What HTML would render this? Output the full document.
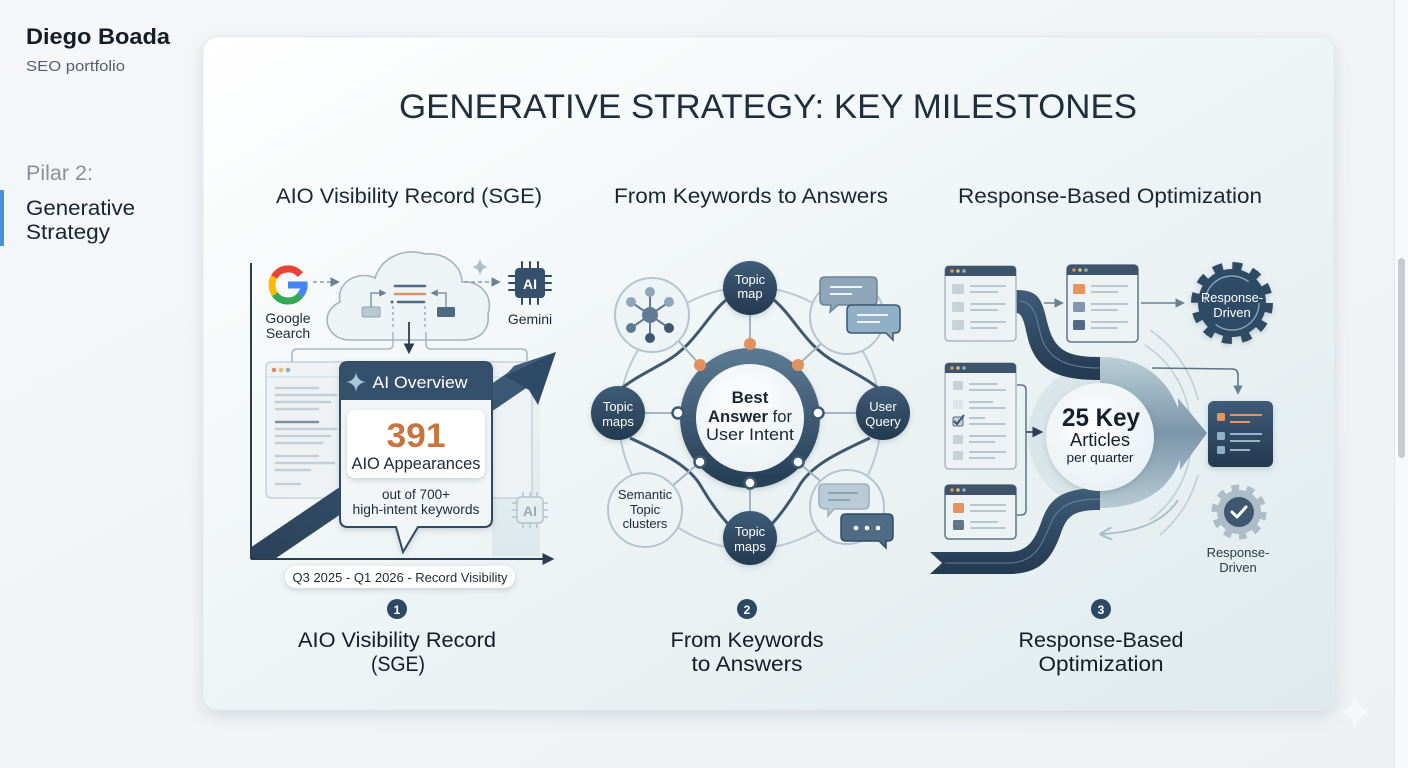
<!DOCTYPE html>
<html><head><meta charset="utf-8"><style>
html,body{margin:0;padding:0;width:1408px;height:768px;overflow:hidden;background:#f3f5f7;}
svg{display:block;font-family:"Liberation Sans",Arial,sans-serif;}
</style></head><body>
<svg width="1408" height="768" viewBox="0 0 1408 768" xmlns="http://www.w3.org/2000/svg">
<defs>
<linearGradient id="bg" x1="0" y1="0" x2="1" y2="1"><stop offset="0" stop-color="#f6f7f9"/><stop offset="1" stop-color="#eef1f3"/></linearGradient>
<linearGradient id="cardg" x1="0" y1="0" x2="1" y2="1"><stop offset="0" stop-color="#ffffff"/><stop offset="0.45" stop-color="#f0f5f6"/><stop offset="1" stop-color="#dfeaed"/></linearGradient>
<filter id="sh" x="-5%" y="-5%" width="110%" height="115%"><feDropShadow dx="0" dy="5" stdDeviation="8" flood-color="#6b7f8c" flood-opacity="0.22"/></filter>
<filter id="sh2" x="-20%" y="-20%" width="140%" height="150%"><feDropShadow dx="0" dy="2" stdDeviation="3" flood-color="#4a6070" flood-opacity="0.25"/></filter>
<linearGradient id="navy" x1="0" y1="0" x2="0" y2="1"><stop offset="0" stop-color="#3f5c78"/><stop offset="1" stop-color="#233a50"/></linearGradient>
<linearGradient id="arrowg" x1="0" y1="1" x2="1" y2="0"><stop offset="0" stop-color="#2a4259"/><stop offset="1" stop-color="#3c5a77"/></linearGradient>
<linearGradient id="ring" x1="0" y1="0" x2="0" y2="1"><stop offset="0" stop-color="#5a7890"/><stop offset="1" stop-color="#263f57"/></linearGradient>
<radialGradient id="white" cx="0.45" cy="0.4" r="0.7"><stop offset="0" stop-color="#ffffff"/><stop offset="1" stop-color="#e6eef2"/></radialGradient>
<linearGradient id="bigarrow" x1="0" y1="0" x2="0" y2="1"><stop offset="0" stop-color="#b9d0d6"/><stop offset="0.5" stop-color="#7b95aa"/><stop offset="1" stop-color="#b6cad2"/></linearGradient>
<linearGradient id="chart" x1="0" y1="0" x2="0" y2="1"><stop offset="0" stop-color="#e8f0f2"/><stop offset="1" stop-color="#d8e6ea"/></linearGradient>
<marker id="ah" viewBox="0 0 10 10" refX="8" refY="5" markerWidth="6" markerHeight="6" orient="auto"><path d="M0,0 L10,5 L0,10 Z" fill="#6a8194"/></marker>
<marker id="ahd" viewBox="0 0 10 10" refX="8" refY="5" markerWidth="6" markerHeight="6" orient="auto"><path d="M0,0 L10,5 L0,10 Z" fill="#2a3d52"/></marker>
<marker id="ahl" viewBox="0 0 10 10" refX="8" refY="5" markerWidth="7" markerHeight="7" orient="auto"><path d="M0,0 L10,5 L0,10" fill="none" stroke="#a9bcc7" stroke-width="1.6"/></marker>
<clipPath id="c1"><rect x="251" y="250" width="320" height="309"/></clipPath>
</defs>

<!-- page background -->
<rect width="1408" height="768" fill="url(#bg)"/>

<!-- sidebar -->
<text x="26" y="44" font-size="22" font-weight="bold" fill="#141c26" textLength="144" lengthAdjust="spacingAndGlyphs">Diego Boada</text>
<text x="26" y="71" font-size="15" fill="#555e66" textLength="99" lengthAdjust="spacingAndGlyphs">SEO portfolio</text>
<text x="26" y="180" font-size="21" fill="#8a9096" textLength="67" lengthAdjust="spacingAndGlyphs">Pilar 2:</text>
<rect x="0" y="190" width="4" height="56" fill="#4a90d9"/>
<text x="26" y="215" font-size="21" fill="#1a2330" textLength="109" lengthAdjust="spacingAndGlyphs">Generative</text>
<text x="26" y="239" font-size="21" fill="#1a2330" textLength="84" lengthAdjust="spacingAndGlyphs">Strategy</text>

<!-- scrollbar -->
<rect x="1394" y="0" width="14" height="768" fill="#f8f9fa"/>
<line x1="1394.5" y1="0" x2="1394.5" y2="768" stroke="#e4e7ea"/>
<rect x="1398" y="258" width="7" height="200" rx="3.5" fill="#c8cbcf"/>

<!-- card -->
<rect x="203" y="37" width="1131" height="673" rx="14" fill="url(#cardg)" stroke="#e4eaed" filter="url(#sh)"/>
<!-- sparkle bottom right -->
<path d="M1355 694 Q1357 710 1372 712 Q1357 714 1355 730 Q1353 714 1338 712 Q1353 710 1355 694Z" fill="#ffffff" opacity="0.45"/>

<!-- title -->
<text x="768" y="118" text-anchor="middle" font-size="34" fill="#1e2e3c" textLength="738" lengthAdjust="spacingAndGlyphs">GENERATIVE STRATEGY: KEY MILESTONES</text>
<text x="409" y="203" text-anchor="middle" font-size="21" fill="#1a2632" textLength="266" lengthAdjust="spacingAndGlyphs">AIO Visibility Record (SGE)</text>
<text x="751" y="203" text-anchor="middle" font-size="21" fill="#1a2632" textLength="274" lengthAdjust="spacingAndGlyphs">From Keywords to Answers</text>
<text x="1110" y="203" text-anchor="middle" font-size="21" fill="#1a2632" textLength="304" lengthAdjust="spacingAndGlyphs">Response-Based Optimization</text>

<!-- ============ PANEL 1 ============ -->
<!-- chart light area -->
<rect x="492" y="400" width="48" height="156" fill="url(#chart)" opacity="0.8"/>
<!-- browser behind -->
<rect x="266" y="362" width="266" height="136" rx="5" fill="#eef2f5" stroke="#c7d1d9" stroke-width="1.5"/>
<line x1="266" y1="377" x2="532" y2="377" stroke="#d3dce2"/>
<circle cx="274" cy="370" r="2.3" fill="#d98c6a"/><circle cx="281" cy="370" r="2.3" fill="#e0c070"/><circle cx="288" cy="370" r="2.3" fill="#8fb0c8"/>
<g stroke-linecap="round" stroke-width="2.5">
<line x1="276" y1="388" x2="318" y2="388" stroke="#c3ced6"/>
<line x1="276" y1="395" x2="336" y2="395" stroke="#c3ced6"/>
<line x1="276" y1="402" x2="330" y2="402" stroke="#c3ced6"/>
<line x1="276" y1="409" x2="318" y2="409" stroke="#c3ced6"/>
<line x1="276" y1="422" x2="318" y2="422" stroke="#7f92a3"/>
<line x1="276" y1="429" x2="336" y2="429" stroke="#c3ced6"/>
<line x1="276" y1="436" x2="330" y2="436" stroke="#c3ced6"/>
<line x1="276" y1="443" x2="322" y2="443" stroke="#c3ced6"/>
<line x1="276" y1="456" x2="318" y2="456" stroke="#c3ced6"/>
<line x1="276" y1="463" x2="334" y2="463" stroke="#c3ced6"/>
<line x1="276" y1="470" x2="310" y2="470" stroke="#c3ced6"/>
<line x1="276" y1="484" x2="300" y2="484" stroke="#c3ced6"/>
</g>
<!-- AI chip light -->
<g stroke="#b5c3cd" stroke-width="1.5" fill="none">
<rect x="517" y="497" width="26" height="26" rx="4" fill="#e6edf1"/>
<line x1="523" y1="492" x2="523" y2="497"/><line x1="530" y1="492" x2="530" y2="497"/><line x1="537" y1="492" x2="537" y2="497"/>
<line x1="523" y1="523" x2="523" y2="528"/><line x1="530" y1="523" x2="530" y2="528"/><line x1="537" y1="523" x2="537" y2="528"/>
<line x1="512" y1="503" x2="517" y2="503"/><line x1="512" y1="510" x2="517" y2="510"/><line x1="512" y1="517" x2="517" y2="517"/>
<line x1="543" y1="503" x2="548" y2="503"/><line x1="543" y1="510" x2="548" y2="510"/><line x1="543" y1="517" x2="548" y2="517"/>
</g>
<text x="530" y="516" text-anchor="middle" font-size="14" font-weight="bold" fill="#9aaab8">AI</text>

<!-- big arrow -->
<g clip-path="url(#c1)">
<line x1="244" y1="566" x2="522" y2="377" stroke="url(#arrowg)" stroke-width="23"/>
</g>
<path d="M556 352 L538 405 L529 390 L505 376 L514 366 Z" fill="#2f4a66"/>
<path d="M556 352 L505 376 L514 366 Z" fill="#3f5f7c"/>

<!-- axes -->
<line x1="251" y1="263" x2="251" y2="559" stroke="#2a3d52" stroke-width="2"/>
<line x1="251" y1="559" x2="552" y2="559" stroke="#2a3d52" stroke-width="2" marker-end="url(#ahd)"/>

<!-- Google G -->
<g fill="none" stroke-width="7">
<path d="M300.3 274.7 A16 16 0 0 0 274.1 277" stroke="#ea4335"/>
<path d="M274.1 277 A16 16 0 0 0 274.9 294.2" stroke="#fbbc05"/>
<path d="M274.9 294.2 A16 16 0 0 0 300.3 295.3" stroke="#34a853"/>
<path d="M300.3 295.3 A16 16 0 0 0 304 285" stroke="#4285f4"/>
<line x1="288" y1="285" x2="307.5" y2="285" stroke="#4285f4"/>
</g>
<text x="288" y="323" text-anchor="middle" font-size="14" fill="#1e2a36">Google</text>
<text x="288" y="338" text-anchor="middle" font-size="14" fill="#1e2a36">Search</text>
<line x1="313" y1="282" x2="338" y2="282" stroke="#8a9eae" stroke-width="1.6" stroke-dasharray="4 3" marker-end="url(#ah)"/>

<!-- cloud -->
<path d="M350 340 C326 340 318 312 340 302 C336 282 358 270 375 278 C382 256 405 248 425 254 C445 252 462 266 462 282 C480 280 494 296 488 314 C490 332 478 340 462 340 Z" fill="#eef3f6" stroke="#a4b4c0" stroke-width="1.6"/>
<g stroke-linecap="round" stroke-width="2.5">
<line x1="395" y1="286" x2="425" y2="286" stroke="#4f6a83"/>
<line x1="395" y1="294" x2="425" y2="294" stroke="#e0915e"/>
<line x1="398" y1="302" x2="424" y2="302" stroke="#4f6a83"/>
</g>
<circle cx="392" cy="302" r="1.5" fill="#4f6a83"/>
<rect x="362" y="307" width="18" height="10" rx="1.5" fill="#b8c8d3" stroke="#8ea3b3"/>
<rect x="437" y="307" width="18" height="10" rx="1.5" fill="#4f6a83"/>
<path d="M371 307 L371 293 L385 293" fill="none" stroke="#6a8194" stroke-width="1.2" marker-end="url(#ah)"/>
<path d="M446 307 L446 293 L432 293" fill="none" stroke="#6a8194" stroke-width="1.2" marker-end="url(#ah)"/>
<g stroke="#8a9eae" stroke-width="1.2" stroke-dasharray="3 3">
<line x1="393" y1="306" x2="393" y2="330"/><line x1="425" y1="306" x2="425" y2="330"/>
</g>
<line x1="409" y1="322" x2="409" y2="352" stroke="#2a3d52" stroke-width="1.8" marker-end="url(#ahd)"/>
<path d="M393 332 L393 344 Q393 349 388 349 L297 349 Q292 349 292 354 L292 362" fill="none" stroke="#a9b8c3" stroke-width="1.5"/>
<path d="M426 332 L426 344 Q426 349 431 349 L522 349 Q527 349 527 354 L527 362" fill="none" stroke="#a9b8c3" stroke-width="1.5"/>
<line x1="464" y1="282" x2="499" y2="282" stroke="#8a9eae" stroke-width="1.6" stroke-dasharray="4 3" marker-end="url(#ah)"/>
<path d="M480 258 Q481 266 488 267 Q481 268 480 276 Q479 268 472 267 Q479 266 480 258Z" fill="#aabdca"/>

<!-- Gemini chip -->
<g stroke="#2f4a63" stroke-width="2" fill="none" stroke-linecap="round">
<line x1="522" y1="262" x2="522" y2="268"/><line x1="530" y1="262" x2="530" y2="268"/><line x1="538" y1="262" x2="538" y2="268"/>
<line x1="522" y1="298" x2="522" y2="304"/><line x1="530" y1="298" x2="530" y2="304"/><line x1="538" y1="298" x2="538" y2="304"/>
<line x1="509" y1="276" x2="515" y2="276"/><line x1="509" y1="283" x2="515" y2="283"/><line x1="509" y1="290" x2="515" y2="290"/>
<line x1="545" y1="276" x2="551" y2="276"/><line x1="545" y1="283" x2="551" y2="283"/><line x1="545" y1="290" x2="551" y2="290"/>
</g>
<rect x="515" y="268" width="30" height="30" rx="4" fill="#34506b"/>
<text x="530" y="289" text-anchor="middle" font-size="14" font-weight="bold" fill="#ffffff">AI</text>
<text x="530" y="324" text-anchor="middle" font-size="14" fill="#1e2a36">Gemini</text>

<!-- AI overview callout -->
<path d="M348 362 L484 362 Q492 362 492 370 L492 519 Q492 527 484 527 L418 527 L403 552 L396 527 L348 527 Q340 527 340 519 L340 370 Q340 362 348 362 Z" fill="#f3f6f8" stroke="#2f4a63" stroke-width="2" filter="url(#sh2)"/>
<path d="M348 362 L484 362 Q492 362 492 370 L492 400 L340 400 L340 370 Q340 362 348 362 Z" fill="#34506b"/>
<path d="M356 372 Q357 381 366 382 Q357 383 356 392 Q355 383 346 382 Q355 381 356 372Z" fill="#a9c6da"/>
<text x="420" y="388" text-anchor="middle" font-size="17" fill="#ffffff" textLength="95" lengthAdjust="spacingAndGlyphs">AI Overview</text>
<rect x="347" y="410" width="138" height="68" rx="8" fill="#ffffff" filter="url(#sh2)"/>
<text x="416" y="447" text-anchor="middle" font-size="34" font-weight="bold" fill="#c8743f" textLength="59" lengthAdjust="spacingAndGlyphs">391</text>
<text x="416" y="469" text-anchor="middle" font-size="17" fill="#1e2a36" textLength="129" lengthAdjust="spacingAndGlyphs">AIO Appearances</text>
<text x="416" y="499" text-anchor="middle" font-size="13.5" fill="#1e2a36" textLength="68" lengthAdjust="spacingAndGlyphs">out of 700+</text>
<text x="416" y="514" text-anchor="middle" font-size="13.5" fill="#1e2a36" textLength="127" lengthAdjust="spacingAndGlyphs">high-intent keywords</text>

<!-- pill -->
<rect x="285" y="566" width="230" height="22" rx="11" fill="#ffffff" filter="url(#sh2)"/>
<text x="400" y="582" text-anchor="middle" font-size="13" fill="#1e2a36" textLength="215" lengthAdjust="spacingAndGlyphs">Q3 2025 - Q1 2026 - Record Visibility</text>

<!-- ============ PANEL 2 ============ -->
<circle cx="750" cy="418" r="131" fill="none" stroke="#bccad3" stroke-width="2"/>
<g fill="none" stroke="#3d5870" stroke-width="3">
<path d="M726 300 C705 318 695 345 665 362 C645 373 632 380 622 388"/>
<path d="M774 300 C795 318 805 345 835 362 C855 373 868 380 878 388"/>
<path d="M630 438 C660 452 690 465 702 488 C712 505 720 515 728 524"/>
<path d="M870 438 C840 452 810 465 798 488 C788 505 780 515 772 524"/>
</g>
<g stroke="#a3b5c1" stroke-width="2">
<line x1="675" y1="337" x2="700" y2="365"/>
<line x1="750" y1="314" x2="750" y2="343"/>
<line x1="825" y1="340" x2="798" y2="365"/>
<line x1="645" y1="413" x2="678" y2="413"/>
<line x1="856" y1="413" x2="818" y2="413"/>
<line x1="670" y1="488" x2="700" y2="462"/>
<line x1="750" y1="511" x2="750" y2="483"/>
<line x1="825" y1="485" x2="798" y2="462"/>
</g>
<circle cx="750" cy="418" r="62" fill="url(#white)" stroke="url(#ring)" stroke-width="16" filter="url(#sh2)"/>
<text x="750" y="403" text-anchor="middle" font-size="17" font-weight="bold" fill="#1a2632">Best</text>
<text x="750" y="422" text-anchor="middle" font-size="17" fill="#1a2632" textLength="84" lengthAdjust="spacingAndGlyphs"><tspan font-weight="bold">Answer</tspan> for</text>
<text x="750" y="440" text-anchor="middle" font-size="17" fill="#1a2632" textLength="88" lengthAdjust="spacingAndGlyphs">User Intent</text>
<circle cx="750" cy="344" r="6" fill="#e0915e"/>
<circle cx="700" cy="365" r="6" fill="#e0915e"/>
<circle cx="798" cy="365" r="6" fill="#e0915e"/>
<g fill="#ffffff" stroke="#3d5870" stroke-width="2.5">
<circle cx="678" cy="413" r="5.5"/><circle cx="818" cy="413" r="5.5"/>
<circle cx="700" cy="462" r="5.5"/><circle cx="798" cy="462" r="5.5"/>
<circle cx="750" cy="483" r="5.5"/>
</g>
<g fill="url(#navy)" filter="url(#sh2)">
<circle cx="750" cy="288" r="27"/><circle cx="618" cy="413" r="27"/>
<circle cx="883" cy="413" r="27"/><circle cx="750" cy="538" r="27"/>
</g>
<g font-size="13" fill="#ffffff" text-anchor="middle">
<text x="750" y="284">Topic</text><text x="750" y="298">map</text>
<text x="618" y="411">Topic</text><text x="618" y="426">maps</text>
<text x="883" y="411">User</text><text x="883" y="426">Query</text>
<text x="750" y="536">Topic</text><text x="750" y="551">maps</text>
</g>
<g fill="#eef3f6" stroke="#b5c5cf" stroke-width="2">
<circle cx="652" cy="315" r="37"/><circle cx="847" cy="317" r="37"/>
<circle cx="645" cy="510" r="37"/><circle cx="847" cy="507" r="37"/>
</g>
<g stroke="#5f7a92" stroke-width="2">
<line x1="650" y1="315" x2="631" y2="302"/><line x1="650" y1="315" x2="650" y2="292"/><line x1="650" y1="315" x2="669" y2="302"/>
<line x1="650" y1="315" x2="669" y2="328"/><line x1="650" y1="315" x2="650" y2="338"/><line x1="650" y1="315" x2="631" y2="328"/>
</g>
<circle cx="650" cy="315" r="8" fill="#5f7a92"/>
<circle cx="631" cy="302" r="5" fill="#8ea6b8"/><circle cx="650" cy="292" r="5" fill="#8ea6b8"/><circle cx="669" cy="302" r="5" fill="#8ea6b8"/>
<circle cx="669" cy="328" r="5" fill="#3d5870"/><circle cx="650" cy="338" r="5" fill="#3d5870"/><circle cx="631" cy="328" r="5" fill="#5f7a92"/>
<path d="M825 277 L872 277 Q877 277 877 282 L877 300 Q877 305 872 305 L838 305 L830 312 L831 305 L825 305 Q820 305 820 300 L820 282 Q820 277 825 277Z" fill="#8ea6b8" stroke="#6a8497" stroke-width="1.5"/>
<line x1="830" y1="287" x2="862" y2="287" stroke="#eef3f6" stroke-width="2"/><line x1="830" y1="294" x2="852" y2="294" stroke="#eef3f6" stroke-width="2"/>
<path d="M852 305 L895 305 Q900 305 900 310 L900 328 Q900 333 895 333 L893 333 L893 340 L886 333 L852 333 Q847 333 847 328 L847 310 Q847 305 852 305Z" fill="#8fb0c5" stroke="#3d5870" stroke-width="1.5"/>
<line x1="857" y1="315" x2="888" y2="315" stroke="#eef3f6" stroke-width="2"/><line x1="857" y1="322" x2="880" y2="322" stroke="#eef3f6" stroke-width="2"/>
<path d="M824 484 L864 484 Q869 484 869 489 L869 504 Q869 509 864 509 L834 509 L828 516 L828 509 Q819 509 819 504 L819 489 Q819 484 824 484Z" fill="#b9cbd6" stroke="#9ab0be" stroke-width="1.5"/>
<line x1="828" y1="493" x2="858" y2="493" stroke="#8ea6b8" stroke-width="2"/><line x1="828" y1="500" x2="850" y2="500" stroke="#8ea6b8" stroke-width="2"/>
<path d="M846 514 L888 514 Q893 514 893 519 L893 536 Q893 541 888 541 L886 541 L886 548 L879 541 L846 541 Q841 541 841 536 L841 519 Q841 514 846 514Z" fill="#4f6c86" stroke="#2f4b66" stroke-width="1.5"/>
<circle cx="856" cy="528" r="2.3" fill="#ffffff"/><circle cx="867" cy="528" r="2.3" fill="#ffffff"/><circle cx="878" cy="528" r="2.3" fill="#ffffff"/>
<g font-size="13" fill="#1e2a36" text-anchor="middle">
<text x="645" y="499">Semantic</text><text x="645" y="514">Topic</text><text x="645" y="528">clusters</text>
</g>

<!-- ============ PANEL 3 ============ -->
<circle cx="1100" cy="436" r="72" fill="#d3dfe4" opacity="0.7"/>
<g fill="none" stroke="#bfcfd7" stroke-width="1.6">
<path d="M1145 345 A100 100 0 0 1 1190 420"/>
<path d="M1150 330 A118 118 0 0 1 1198 400"/>
<path d="M1190 455 A100 100 0 0 1 1150 520"/>
<path d="M1198 475 A118 118 0 0 1 1160 535"/>
</g>
<path d="M1178 500 C1165 520 1140 532 1102 534" fill="none" stroke="#a9bcc7" stroke-width="1.8" marker-end="url(#ahl)"/>
<path d="M1100 357 C1140 357 1165 375 1178 408 L1178 398 L1207 433 L1180 470 L1180 460 C1168 492 1140 508 1100 508 Z" fill="url(#bigarrow)"/>
<path d="M1016 290 C1040 290 1042 300 1048 325 C1055 352 1070 357 1100 357 L1100 380 C1060 380 1035 372 1027 335 C1023 315 1020 313 1016 313 Z" fill="url(#navy)"/>
<path d="M1020 301 C1035 302 1037 320 1040 332 C1046 360 1068 368 1100 368" fill="none" stroke="#7f98ad" stroke-width="1" opacity="0.7"/>
<path d="M930 552 L1008 552 C1028 552 1035 540 1042 520 C1050 497 1065 488 1100 488 L1100 510 C1075 510 1068 515 1062 530 C1052 560 1040 574 1008 574 L930 574 L942 563 Z" fill="url(#navy)"/>
<path d="M945 563 L1008 563 C1032 563 1040 550 1050 525 C1058 505 1072 499 1100 499" fill="none" stroke="#7f98ad" stroke-width="1" opacity="0.7"/>
<circle cx="1100" cy="437" r="54" fill="url(#white)" filter="url(#sh2)"/>
<text x="1101" y="426" text-anchor="middle" font-size="25" font-weight="bold" fill="#141f2c" textLength="78" lengthAdjust="spacingAndGlyphs">25 Key</text>
<text x="1100" y="446" text-anchor="middle" font-size="18" fill="#141f2c" textLength="60" lengthAdjust="spacingAndGlyphs">Articles</text>
<text x="1100" y="462" text-anchor="middle" font-size="13" fill="#141f2c" textLength="67" lengthAdjust="spacingAndGlyphs">per quarter</text>

<!-- browsers -->
<g>
<rect x="945" y="266" width="71" height="75" rx="4" fill="#edf2f5" stroke="#aab8c3" stroke-width="1.5"/>
<path d="M949 266 L1012 266 Q1016 266 1016 270 L1016 276 L945 276 L945 270 Q945 266 949 266Z" fill="#3d546a"/>
<circle cx="952" cy="271" r="1.8" fill="#e0915e"/><circle cx="958" cy="271" r="1.8" fill="#e0c070"/><circle cx="964" cy="271" r="1.8" fill="#8fb0c8"/>
<rect x="952" y="284" width="12" height="10" rx="1.5" fill="#c6d2da"/><rect x="952" y="302" width="12" height="10" rx="1.5" fill="#c6d2da"/><rect x="952" y="320" width="12" height="10" rx="1.5" fill="#c6d2da"/>
<g stroke="#b9c7d1" stroke-width="2"><line x1="970" y1="286" x2="1006" y2="286"/><line x1="970" y1="292" x2="998" y2="292"/><line x1="970" y1="304" x2="1006" y2="304"/><line x1="970" y1="310" x2="998" y2="310"/><line x1="970" y1="322" x2="1006" y2="322"/><line x1="970" y1="328" x2="998" y2="328"/></g>
</g>
<g>
<rect x="1067" y="265" width="71" height="77" rx="4" fill="#edf2f5" stroke="#5f7588" stroke-width="1.5"/>
<path d="M1071 265 L1134 265 Q1138 265 1138 269 L1138 275 L1067 275 L1067 269 Q1067 265 1071 265Z" fill="#3d546a"/>
<circle cx="1074" cy="270" r="1.8" fill="#e0915e"/><circle cx="1080" cy="270" r="1.8" fill="#e0c070"/><circle cx="1086" cy="270" r="1.8" fill="#8fb0c8"/>
<rect x="1073" y="284" width="12" height="10" rx="1.5" fill="#e8925e"/><rect x="1073" y="302" width="12" height="10" rx="1.5" fill="#7f97a9"/><rect x="1073" y="320" width="12" height="10" rx="1.5" fill="#4f6a83"/>
<g stroke="#b9c7d1" stroke-width="2"><line x1="1091" y1="286" x2="1128" y2="286"/><line x1="1091" y1="292" x2="1118" y2="292"/><line x1="1091" y1="304" x2="1128" y2="304"/><line x1="1091" y1="310" x2="1118" y2="310"/><line x1="1091" y1="322" x2="1128" y2="322"/><line x1="1091" y1="328" x2="1118" y2="328"/></g>
</g>
<g>
<rect x="945" y="363" width="71" height="106" rx="4" fill="#edf2f5" stroke="#aab8c3" stroke-width="1.5"/>
<path d="M949 363 L1012 363 Q1016 363 1016 367 L1016 373 L945 373 L945 367 Q945 363 949 363Z" fill="#3d546a"/>
<circle cx="952" cy="368" r="1.8" fill="#e0915e"/><circle cx="958" cy="368" r="1.8" fill="#e0c070"/><circle cx="964" cy="368" r="1.8" fill="#8fb0c8"/>
<rect x="953" y="381" width="10" height="9" rx="1.5" fill="#c6d2da"/><rect x="953" y="400" width="10" height="9" rx="1.5" fill="#dfe6eb"/>
<rect x="953" y="417" width="10" height="9" rx="1.5" fill="#c6d2da" stroke="#4f6a83"/><path d="M954 421 L957 424 L964 415" fill="none" stroke="#3d546a" stroke-width="2"/>
<rect x="953" y="435" width="10" height="9" rx="1.5" fill="#c6d2da"/><rect x="953" y="451" width="10" height="9" rx="1.5" fill="#c6d2da"/>
<g stroke="#b9c7d1" stroke-width="2"><line x1="969" y1="384" x2="998" y2="384"/><line x1="969" y1="390" x2="1006" y2="390"/><line x1="969" y1="402" x2="993" y2="402"/><line x1="969" y1="408" x2="1006" y2="408"/><line x1="969" y1="418" x2="985" y2="418"/><line x1="969" y1="424" x2="1006" y2="424"/><line x1="969" y1="436" x2="1006" y2="436"/><line x1="969" y1="442" x2="995" y2="442"/><line x1="969" y1="452" x2="1006" y2="452"/><line x1="969" y1="458" x2="995" y2="458"/></g>
</g>
<g>
<rect x="945" y="485" width="71" height="54" rx="4" fill="#edf2f5" stroke="#5f7588" stroke-width="1.5"/>
<path d="M949 485 L1012 485 Q1016 485 1016 489 L1016 495 L945 495 L945 489 Q945 485 949 485Z" fill="#3d546a"/>
<circle cx="952" cy="490" r="1.8" fill="#e0915e"/><circle cx="958" cy="490" r="1.8" fill="#e0c070"/><circle cx="964" cy="490" r="1.8" fill="#8fb0c8"/>
<rect x="953" y="503" width="11" height="10" rx="1.5" fill="#e8925e"/><rect x="953" y="520" width="11" height="10" rx="1.5" fill="#5f7588"/>
<g stroke="#b9c7d1" stroke-width="2"><line x1="970" y1="505" x2="1006" y2="505"/><line x1="970" y1="511" x2="1006" y2="511"/><line x1="970" y1="522" x2="998" y2="522"/><line x1="970" y1="528" x2="1006" y2="528"/></g>
</g>
<path d="M1017 385 L1021 385 Q1026 385 1026 390 L1026 510 Q1026 515 1021 515 L1017 515" fill="none" stroke="#5d7488" stroke-width="1.5"/>
<line x1="1026" y1="432" x2="1041" y2="432" stroke="#3d546a" stroke-width="1.8" marker-end="url(#ahd)"/>
<line x1="1044" y1="303" x2="1062" y2="303" stroke="#6a8194" stroke-width="1.6" marker-end="url(#ah)"/>
<line x1="1141" y1="303" x2="1183" y2="303" stroke="#6a8194" stroke-width="1.6" marker-end="url(#ah)"/>
<g filter="url(#sh2)">
<circle cx="1232" cy="303" r="34" fill="#2f4b66"/>
<circle cx="1232" cy="303" r="37" fill="none" stroke="#2f4b66" stroke-width="8" stroke-dasharray="9.7 9.68"/>
</g>
<circle cx="1232" cy="303" r="27" fill="none" stroke="#8aa3b6" stroke-width="1.4" stroke-dasharray="60 25"/>
<text x="1232" y="302" text-anchor="middle" font-size="13" fill="#ffffff" textLength="62" lengthAdjust="spacingAndGlyphs">Response-</text>
<text x="1232" y="317" text-anchor="middle" font-size="13" fill="#ffffff">Driven</text>
<path d="M1152 368 L1232 369 Q1238 369 1238 375 L1238 393" fill="none" stroke="#5d7488" stroke-width="1.6" marker-end="url(#ah)"/>
<rect x="1208" y="401" width="65" height="66" rx="6" fill="url(#navy)" filter="url(#sh2)"/>
<rect x="1217" y="413" width="8" height="8" rx="1.5" fill="#e8925e"/>
<line x1="1230" y1="415" x2="1262" y2="415" stroke="#e8925e" stroke-width="2"/><line x1="1230" y1="422" x2="1250" y2="422" stroke="#e8925e" stroke-width="2"/>
<rect x="1217" y="432" width="8" height="8" rx="1.5" fill="#8fb0c5"/><rect x="1217" y="446" width="8" height="8" rx="1.5" fill="#8fb0c5"/>
<line x1="1230" y1="434" x2="1262" y2="434" stroke="#9ab5c8" stroke-width="2"/><line x1="1230" y1="441" x2="1260" y2="441" stroke="#9ab5c8" stroke-width="2"/><line x1="1230" y1="450" x2="1250" y2="450" stroke="#9ab5c8" stroke-width="2"/>
<circle cx="1239" cy="512" r="22" fill="#aebcc7"/>
<circle cx="1239" cy="512" r="24" fill="none" stroke="#aebcc7" stroke-width="7" stroke-dasharray="7.5 7.58"/>
<circle cx="1239" cy="512" r="15" fill="#3d5870"/>
<path d="M1232 512 L1237 517 L1246 507" fill="none" stroke="#ffffff" stroke-width="3" stroke-linecap="round" stroke-linejoin="round"/>
<text x="1238" y="557" text-anchor="middle" font-size="13" fill="#2a3a48">Response-</text>
<text x="1238" y="572" text-anchor="middle" font-size="13" fill="#2a3a48">Driven</text>

<!-- ============ bottom labels ============ -->
<circle cx="397" cy="609" r="10" fill="#2d4a64"/>
<text x="397" y="614" text-anchor="middle" font-size="12" font-weight="bold" fill="#ffffff">1</text>
<circle cx="747" cy="609" r="10" fill="#2d4a64"/>
<text x="747" y="614" text-anchor="middle" font-size="12" font-weight="bold" fill="#ffffff">2</text>
<circle cx="1101" cy="609" r="10" fill="#2d4a64"/>
<text x="1101" y="614" text-anchor="middle" font-size="12" font-weight="bold" fill="#ffffff">3</text>
<g font-size="21" fill="#141c26" text-anchor="middle">
<text x="397" y="647" textLength="198" lengthAdjust="spacingAndGlyphs">AIO Visibility Record</text>
<text x="398" y="671" textLength="54" lengthAdjust="spacingAndGlyphs">(SGE)</text>
<text x="747" y="647" textLength="153" lengthAdjust="spacingAndGlyphs">From Keywords</text>
<text x="747" y="671" textLength="111" lengthAdjust="spacingAndGlyphs">to Answers</text>
<text x="1101" y="647" textLength="165" lengthAdjust="spacingAndGlyphs">Response-Based</text>
<text x="1101" y="671" textLength="125" lengthAdjust="spacingAndGlyphs">Optimization</text>
</g>
</svg>
</body></html>
